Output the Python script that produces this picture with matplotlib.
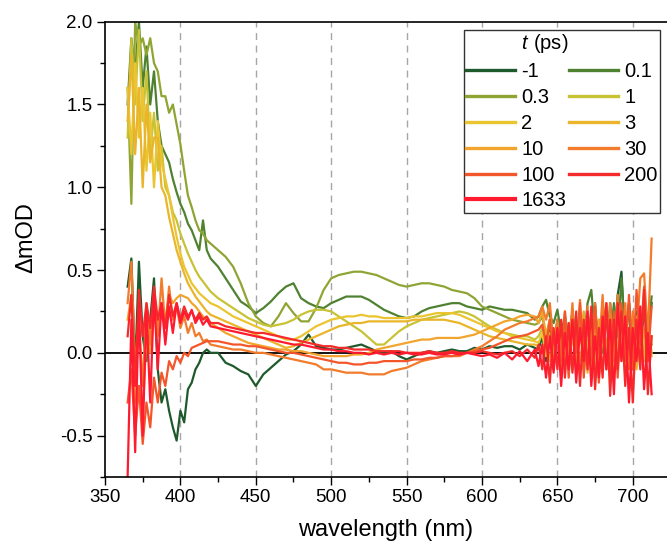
import numpy as np
import matplotlib
matplotlib.use("Agg")
import matplotlib.pyplot as plt
from matplotlib.ticker import MultipleLocator

plt.rcParams['font.family'] = ['Liberation Sans', 'DejaVu Sans']
plt.rcParams['mathtext.fontset'] = 'custom'
plt.rcParams['mathtext.it'] = 'Liberation Sans:italic'
plt.rcParams['mathtext.rm'] = 'Liberation Sans'
plt.rcParams['axes.unicode_minus'] = False

# wavelength grid (nm)
wl = np.concatenate([np.arange(365.0, 420.1, 2.5),
                     np.arange(425.0, 635.1, 5.0),
                     np.arange(637.5, 712.6, 2.5)])

labels = ['-1', '0.1', '0.3', '1', '2', '3', '10', '30', '100', '200', '1633']
colors = ['#1e5a2c', '#4f8230', '#8ea534', '#c8c235', '#ebc52f', '#eab52a',
          '#f2a42c', '#f27c2c', '#f4562b', '#f52a2a', '#ff1a30']

d_m1 = [0.40, 0.57, -0.10, 0.55, 0.10, -0.05, 0.20, 0.45, -0.10, -0.30, -0.22, -0.35, -0.45, -0.53, -0.35, -0.42, -0.22, -0.18, -0.10, -0.06, 0.00, 0.02, 0.00,
        0.00, -0.06, -0.08, -0.11, -0.13, -0.20, -0.13, -0.09, -0.05, -0.01, 0.01, 0.05, 0.11, 0.04, 0.03, 0.02, 0.02, 0.03, 0.04, 0.05, 0.03, 0.01, 0.00, 0.01, -0.02, -0.04, -0.02, 0.00, 0.01, 0.00, 0.01, 0.02, 0.01, 0.01, 0.03, 0.02, 0.04, 0.03, 0.04, 0.04, 0.02, 0.05, 0.03,
        0.02, 0.10, -0.05, 0.15, 0.00, 0.20, -0.05, 0.12, -0.10, 0.15, 0.00, 0.20, -0.05, 0.25, 0.05, 0.30, -0.10, 0.20, -0.05, 0.30, 0.00, 0.35, 0.49, 0.05, 0.30, -0.10, 0.25, 0.00, 0.30, 0.10, 0.30]
d_01 = [1.50, 1.90, 1.70, 2.00, 1.60, 1.85, 1.50, 1.70, 1.40, 1.25, 1.20, 1.15, 1.05, 0.97, 0.90, 0.85, 0.78, 0.74, 0.68, 0.62, 0.80, 0.62, 0.57,
        0.52, 0.45, 0.38, 0.31, 0.28, 0.24, 0.27, 0.31, 0.36, 0.40, 0.42, 0.33, 0.30, 0.28, 0.27, 0.30, 0.32, 0.34, 0.34, 0.34, 0.32, 0.29, 0.26, 0.24, 0.22, 0.21, 0.22, 0.25, 0.27, 0.28, 0.29, 0.30, 0.30, 0.28, 0.27, 0.26, 0.28, 0.27, 0.26, 0.26, 0.25, 0.24, 0.20,
        0.22, 0.28, 0.32, 0.22, 0.18, 0.26, 0.12, 0.22, 0.10, 0.25, 0.08, 0.20, 0.05, 0.30, 0.38, 0.10, 0.20, 0.00, 0.25, 0.05, 0.30, 0.10, 0.45, 0.10, 0.30, 0.00, 0.20, 0.05, 0.25, 0.10, 0.34]
d_03 = [1.60, 0.90, 2.00, 1.85, 1.90, 1.80, 1.90, 1.75, 1.70, 1.55, 1.55, 1.45, 1.50, 1.38, 1.26, 1.10, 0.95, 0.88, 0.80, 0.74, 0.72, 0.68, 0.66,
        0.62, 0.58, 0.52, 0.42, 0.30, 0.22, 0.18, 0.16, 0.22, 0.30, 0.24, 0.19, 0.19, 0.27, 0.38, 0.45, 0.47, 0.48, 0.49, 0.49, 0.48, 0.47, 0.45, 0.43, 0.41, 0.40, 0.41, 0.42, 0.42, 0.41, 0.40, 0.38, 0.37, 0.36, 0.33, 0.28, 0.26, 0.24, 0.22, 0.20, 0.19, 0.18, 0.17,
        0.18, 0.22, 0.10, 0.20, 0.05, 0.18, 0.08, 0.20, 0.00, 0.15, 0.05, 0.22, -0.02, 0.15, 0.05, 0.20, -0.05, 0.18, 0.00, 0.20, -0.05, 0.15, 0.02, 0.22, -0.05, 0.15, 0.00, 0.20, -0.05, 0.15, 0.05]
d_1 = [1.30, 1.90, 1.50, 1.95, 1.40, 1.70, 1.20, 1.45, 1.10, 1.25, 1.00, 0.95, 0.85, 0.80, 0.72, 0.66, 0.60, 0.55, 0.50, 0.46, 0.43, 0.40, 0.37,
       0.33, 0.30, 0.27, 0.24, 0.21, 0.19, 0.17, 0.16, 0.17, 0.18, 0.20, 0.23, 0.25, 0.26, 0.26, 0.25, 0.22, 0.19, 0.16, 0.13, 0.09, 0.05, 0.05, 0.09, 0.13, 0.16, 0.18, 0.20, 0.21, 0.22, 0.23, 0.24, 0.25, 0.24, 0.22, 0.19, 0.16, 0.14, 0.12, 0.11, 0.10, 0.10, 0.08,
       0.10, 0.15, 0.02, 0.12, 0.00, 0.15, -0.02, 0.10, 0.05, 0.18, -0.05, 0.12, 0.02, 0.20, -0.05, 0.15, 0.00, 0.20, -0.08, 0.12, 0.05, 0.22, -0.05, 0.15, 0.00, 0.20, -0.05, 0.12, 0.02, 0.18, 0.00]
d_2 = [1.60, 1.20, 1.75, 1.30, 1.60, 1.10, 1.45, 1.00, 1.40, 1.15, 1.05, 0.95, 0.82, 0.70, 0.60, 0.52, 0.47, 0.42, 0.39, 0.36, 0.34, 0.32, 0.30,
       0.28, 0.25, 0.22, 0.20, 0.18, 0.16, 0.14, 0.12, 0.10, 0.08, 0.08, 0.10, 0.13, 0.16, 0.18, 0.20, 0.21, 0.22, 0.22, 0.23, 0.22, 0.22, 0.21, 0.21, 0.21, 0.21, 0.22, 0.22, 0.23, 0.24, 0.24, 0.24, 0.23, 0.21, 0.19, 0.17, 0.15, 0.13, 0.12, 0.10, 0.09, 0.08, 0.07,
       0.06, 0.12, -0.02, 0.10, -0.05, 0.12, 0.00, 0.08, -0.08, 0.10, -0.05, 0.15, -0.10, 0.08, -0.02, 0.18, -0.10, 0.10, -0.05, 0.15, -0.12, 0.05, 0.12, -0.08, 0.15, -0.10, 0.10, -0.05, 0.15, -0.05, 0.08]
d_3 = [1.40, 1.80, 1.20, 1.60, 1.00, 1.50, 1.15, 1.30, 1.30, 1.00, 0.95, 0.82, 0.72, 0.62, 0.55, 0.48, 0.42, 0.38, 0.34, 0.31, 0.28, 0.25, 0.23,
       0.21, 0.19, 0.17, 0.15, 0.13, 0.11, 0.09, 0.07, 0.05, 0.03, 0.04, 0.06, 0.08, 0.10, 0.12, 0.14, 0.16, 0.17, 0.18, 0.18, 0.19, 0.19, 0.19, 0.19, 0.19, 0.19, 0.20, 0.20, 0.20, 0.20, 0.20, 0.19, 0.18, 0.16, 0.14, 0.12, 0.10, 0.09, 0.08, 0.07, 0.06, 0.05, 0.05,
       0.04, 0.00, 0.10, -0.05, 0.08, -0.08, 0.10, -0.05, 0.12, -0.10, 0.08, -0.05, 0.12, -0.12, 0.05, -0.05, 0.15, -0.10, 0.08, -0.15, 0.10, -0.05, 0.15, -0.12, 0.05, 0.12, -0.10, 0.10, -0.05, 0.15, -0.02]
d_10 = [0.20, 0.35, -0.30, -0.20, -0.36, 0.10, 0.00, 0.25, 0.15, 0.30, 0.20, 0.35, 0.30, 0.33, 0.35, 0.34, 0.33, 0.30, 0.28, 0.25, 0.22, 0.20, 0.18,
        0.15, 0.12, 0.10, 0.08, 0.06, 0.05, 0.04, 0.03, 0.02, 0.02, 0.01, 0.01, 0.00, -0.01, -0.02, -0.02, -0.02, -0.02, -0.01, -0.01, 0.00, 0.02, 0.03, 0.04, 0.05, 0.06, 0.07, 0.08, 0.08, 0.09, 0.09, 0.09, 0.09, 0.10, 0.11, 0.13, 0.15, 0.17, 0.19, 0.20, 0.22, 0.23, 0.22,
        0.18, 0.25, 0.10, 0.20, 0.02, 0.18, -0.05, 0.15, 0.00, 0.20, -0.05, 0.10, 0.25, -0.05, 0.15, -0.10, 0.20, 0.05, 0.25, -0.05, 0.18, 0.00, 0.20, -0.05, 0.15, 0.05, 0.22, 0.00, 0.15, -0.02, 0.10]
d_30 = [0.30, 0.55, -0.10, 0.20, -0.20, 0.30, 0.05, 0.35, 0.10, 0.45, 0.15, 0.40, 0.20, 0.28, 0.15, 0.22, 0.12, 0.18, 0.10, 0.12, 0.07, 0.08, 0.05,
        0.04, 0.03, 0.02, 0.02, 0.01, 0.00, 0.00, -0.01, -0.02, -0.03, -0.04, -0.05, -0.06, -0.07, -0.10, -0.10, -0.11, -0.12, -0.12, -0.12, -0.13, -0.13, -0.13, -0.11, -0.10, -0.09, -0.07, -0.05, -0.04, -0.03, -0.02, -0.02, -0.02, 0.00, 0.02, 0.04, 0.07, 0.10, 0.14, 0.16, 0.18, 0.19, 0.21,
        0.22, 0.28, 0.20, 0.30, 0.05, 0.20, -0.10, 0.25, 0.00, 0.30, -0.10, 0.32, -0.05, 0.28, -0.12, 0.30, 0.00, 0.35, -0.10, 0.30, -0.05, 0.35, 0.00, 0.30, -0.10, 0.25, 0.10, 0.45, 0.48, 0.10, 0.69]
d_100 = [-0.30, -0.10, -0.50, -0.20, -0.55, -0.30, -0.45, -0.15, -0.30, -0.12, -0.20, -0.05, -0.10, -0.02, -0.06, 0.00, -0.02, 0.03, 0.04, 0.05, 0.06, 0.07, 0.07,
         0.07, 0.06, 0.05, 0.05, 0.04, 0.04, 0.03, 0.02, 0.01, 0.00, 0.00, -0.01, -0.02, -0.03, -0.04, -0.05, -0.06, -0.06, -0.07, -0.07, -0.06, -0.06, -0.05, -0.05, -0.05, -0.05, -0.04, -0.04, -0.03, -0.03, -0.02, -0.02, -0.01, 0.00, 0.01, 0.02, 0.03, 0.05, 0.07, 0.09, 0.10, 0.11, 0.13,
         0.14, 0.17, 0.05, 0.20, -0.10, 0.15, -0.05, 0.25, -0.15, 0.20, 0.00, 0.30, -0.15, 0.20, -0.05, 0.28, -0.18, 0.15, 0.30, -0.10, 0.25, -0.15, 0.30, -0.05, 0.35, -0.10, 0.38, 0.05, 0.40, -0.05, 0.28]
d_200 = [0.10, 0.35, -0.20, 0.38, 0.10, 0.30, 0.15, 0.40, 0.20, 0.30, 0.15, 0.35, 0.22, 0.30, 0.20, 0.28, 0.22, 0.25, 0.20, 0.24, 0.20, 0.22, 0.18,
         0.18, 0.16, 0.15, 0.14, 0.13, 0.12, 0.12, 0.11, 0.10, 0.09, 0.08, 0.07, 0.06, 0.05, 0.04, 0.04, 0.03, 0.03, 0.02, 0.02, 0.02, 0.01, 0.01, 0.01, 0.01, 0.00, 0.00, 0.00, 0.01, 0.00, 0.00, 0.01, 0.00, 0.00, 0.00, 0.01, 0.00, -0.01, 0.00, 0.01, -0.02, 0.02, -0.03,
         0.05, -0.10, 0.10, -0.18, 0.15, -0.10, 0.20, -0.15, 0.18, -0.12, 0.25, -0.20, 0.20, -0.10, 0.28, -0.22, 0.15, -0.15, 0.30, -0.26, 0.20, -0.10, 0.25, -0.20, 0.15, -0.30, 0.20, -0.10, 0.38, -0.25, 0.10]
d_1633 = [-0.75, 0.20, -0.60, 0.30, -0.50, 0.25, -0.30, 0.35, -0.10, 0.30, 0.05, 0.28, 0.12, 0.30, 0.18, 0.25, 0.20, 0.26, 0.18, 0.22, 0.17, 0.20, 0.16,
          0.15, 0.14, 0.13, 0.12, 0.11, 0.10, 0.09, 0.08, 0.07, 0.06, 0.05, 0.05, 0.04, 0.03, 0.02, 0.02, 0.01, 0.01, 0.00, 0.00, -0.01, 0.00, -0.01, 0.00, -0.01, 0.00, -0.01, -0.01, 0.00, -0.01, -0.01, 0.00, -0.01, 0.00, -0.01, -0.02, -0.01, -0.03, 0.00, -0.04, 0.01, -0.05, 0.02,
          -0.08, 0.05, -0.15, 0.10, -0.12, 0.15, -0.20, 0.12, -0.10, 0.20, -0.18, 0.15, -0.05, 0.25, -0.20, 0.10, -0.15, 0.22, -0.10, 0.20, -0.25, 0.30, -0.05, 0.22, -0.30, 0.15, -0.05, 0.28, -0.22, 0.12, -0.25]

series = [d_m1, d_01, d_03, d_1, d_2, d_3, d_10, d_30, d_100, d_200, d_1633]

fig = plt.figure(figsize=(6.67, 5.48), dpi=100)
ax = fig.add_axes([105/667, 71/548, 1 - 105/667, 455.3/548])

for x in [400, 450, 500, 550, 600, 650, 700]:
    ax.axvline(x, color='#a6a6a6', lw=1.0, ls=(0, (5, 4)), zorder=0)
ax.axhline(0, color='black', lw=1.3, zorder=1)

handles = []
for lab, col, y in zip(labels, colors, series):
    h, = ax.plot(wl, y, color=col, lw=1.6, label=lab, zorder=2)
    handles.append(h)

ax.set_xlim(350, 722.7)
ax.set_ylim(-0.75, 2.0)
ax.xaxis.set_major_locator(MultipleLocator(50))
ax.xaxis.set_minor_locator(MultipleLocator(25))
ax.yaxis.set_major_locator(MultipleLocator(0.5))
ax.yaxis.set_minor_locator(MultipleLocator(0.25))
ax.yaxis.set_major_formatter(matplotlib.ticker.FormatStrFormatter('%.1f'))
ax.tick_params(which='major', direction='out', length=6, width=1.0, labelsize=13.5, pad=3)
ax.tick_params(which='minor', direction='out', length=3.5, width=1.0)
ax.tick_params(top=False, right=False)
ax.spines['right'].set_visible(False)
for s in ['left', 'bottom', 'top']:
    ax.spines[s].set_linewidth(1.2)

ax.set_xlabel('wavelength (nm)', fontsize=17, labelpad=9)
ax.set_ylabel('\u0394mOD', fontsize=17)
ax.yaxis.set_label_coords(-0.12, 0.525)

# row-major order for a 2-column legend
order = list(range(0, len(labels), 2)) + list(range(1, len(labels), 2))
leg = ax.legend([handles[i] for i in order], [labels[i] for i in order],
                ncol=2, loc='upper right', bbox_to_anchor=((660-105)/562, (477-30)/455.3),
                borderaxespad=0, fontsize=14.5, title='          $t$ (ps)', title_fontsize=14.5,
                frameon=True, fancybox=False, framealpha=1, edgecolor='#333333',
                handlelength=2.4, handletextpad=0.33, columnspacing=0.15, labelspacing=0.34,
                borderpad=0.12)
leg.get_frame().set_linewidth(1.0)
leg._legend_box.align = 'left'
for i, l in zip(order, leg.get_lines()):
    l.set_linewidth(3.0 if labels[i] == '1633' else 2.4)

fig.savefig('out.png', dpi=100)
